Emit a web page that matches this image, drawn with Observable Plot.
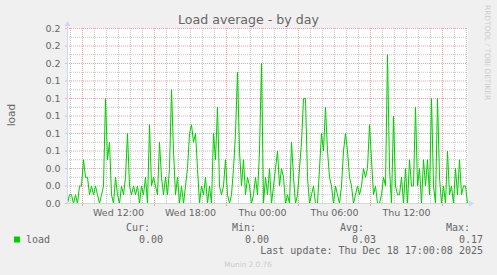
<!DOCTYPE html>
<html>
<head>
<meta charset="utf-8">
<script src="https://cdn.jsdelivr.net/npm/d3@7"></script>
<script src="https://cdn.jsdelivr.net/npm/@observablehq/plot@0.6"></script>
<style>
  html, body { margin: 0; padding: 0; background: #f0f0f0; }
  #chart svg { display: block; }
</style>
</head>
<body>
<div id="chart"></div>
<script>
// ---- data (10-minute samples) ----
const seriesName = "load";
const sampleStart = "2025-12-17T07:45:00Z";
const sampleStepMinutes = 10;
const loadValues = [
  0, 0.01, 0.01, 0, 0.01, 0, 0.02, 0.02, 0.05, 0.03,
  0.03, 0.01, 0.02, 0.01, 0.02, 0.01, 0, 0.01, 0.02, 0.12,
  0.05, 0.07, 0.01, 0, 0.03, 0.01, 0, 0.02, 0.01, 0.03,
  0.08, 0.02, 0.01, 0.02, 0.01, 0.02, 0, 0.02, 0.01, 0.03,
  0, 0.09, 0.02, 0.03, 0.02, 0.01, 0.07, 0.03, 0.01, 0.03,
  0.01, 0.04, 0.13, 0.06, 0.01, 0.03, 0, 0.02, 0, 0.02,
  0.04, 0.08, 0.09, 0.07, 0.08, 0.04, 0, 0.02, 0.01, 0.03,
  0, 0.02, 0, 0.08, 0.05, 0.11, 0.02, 0.01, 0.02, 0.05,
  0.01, 0, 0.01, 0.04, 0.08, 0.15, 0.06, 0.02, 0.05, 0.01,
  0.03, 0.02, 0, 0.01, 0.03, 0.01, 0.06, 0.16, 0, 0.03,
  0.01, 0.04, 0, 0.02, 0.04, 0.06, 0.02, 0.04, 0.03, 0,
  0.01, 0, 0.07, 0.03, 0, 0.01, 0.04, 0.07, 0.12, 0.12,
  0.03, 0, 0.01, 0.02, 0, 0, 0.04, 0.08, 0.06, 0.11,
  0.06, 0.03, 0.02, 0, 0.02, 0.01, 0, 0.02, 0.06, 0.08,
  0.06, 0.03, 0.02, 0, 0.01, 0.02, 0.01, 0.02, 0.04, 0.03,
  0.04, 0.09, 0.05, 0.01, 0.02, 0, 0, 0.01, 0.03, 0.02,
  0.17, 0.04, 0, 0.10, 0.02, 0.01, 0.01, 0.03, 0, 0.04,
  0, 0.05, 0.02, 0.02, 0.11, 0.02, 0.04, 0, 0.05, 0.02,
  0.05, 0.01, 0.12, 0.02, 0, 0.12, 0.03, 0, 0.02, 0,
  0.06, 0.01, 0.02, 0, 0.04, 0.01, 0.05, 0.01, 0.02, 0.02,
  0
];
// axis / grid definitions
const xDomain = ["2025-12-17T07:45:00Z", "2025-12-18T17:05:00Z"];
const xLabelTimes = ["2025-12-17T12:00:00Z", "2025-12-17T18:00:00Z", "2025-12-18T00:00:00Z", "2025-12-18T06:00:00Z", "2025-12-18T12:00:00Z"];
const xMajorTimes = ["2025-12-17T09:00:00Z", "2025-12-17T15:00:00Z", "2025-12-17T21:00:00Z", "2025-12-18T03:00:00Z", "2025-12-18T09:00:00Z", "2025-12-18T15:00:00Z"];
const yDomain = [0, 0.2];
const yMajorTicks = [0, 0.02, 0.04, 0.06, 0.08, 0.10, 0.12, 0.14, 0.16, 0.18, 0.20];
const yMinorTicks = [0.01, 0.03, 0.05, 0.07, 0.09, 0.11, 0.13, 0.15, 0.17, 0.19];
// legend texts
const titleText = "Load average - by day";
const yLabelText = "load";
const statHeaders = ["Cur:", "Min:", "Avg:", "Max:"];
const statValues = ["0.00", "0.00", "0.03", "0.17"];
const lastUpdateText = "Last update: Thu Dec 18 17:00:08 2025";
const muninText = "Munin 2.0.76";
const rrdText = "RRDTOOL / TOBI OETIKER";

// ---- build ----
const t0 = new Date(sampleStart).getTime();
const data = loadValues.map((v, i) => ({ t: new Date(t0 + i * sampleStepMinutes * 60000), v }));
const xDom = xDomain.map(d => new Date(d));
const hourLines = d3.utcHours(xDom[0], xDom[1]);
const majorX = xMajorTimes.map(d => new Date(d));
const labelX = xLabelTimes.map(d => new Date(d));

const GRID = "#c6c6c6";
const MGRID = "#eea4a4";
const AXIS = "#CFD6F8";
const FONT = "#666666";

const chart = Plot.plot({
  width: 497,
  height: 275,
  marginLeft: 67,
  marginRight: 30,
  marginTop: 28,
  marginBottom: 72,
  style: { background: "#f0f0f0", fontFamily: "DejaVu Sans", fontSize: "9.5px", color: FONT },
  x: { type: "utc", domain: xDom },
  y: { domain: yDomain },
  marks: [
    Plot.frame({ fill: "white", stroke: "none" }),
    Plot.ruleY(yMinorTicks, { stroke: GRID, strokeDasharray: "1,1", strokeWidth: 1 }),
    Plot.ruleX(hourLines.filter(h => !majorX.some(m => +m === +h)), { stroke: GRID, strokeDasharray: "1,1", strokeWidth: 1 }),
    Plot.ruleY(yMajorTicks.slice(1), { stroke: MGRID, strokeDasharray: "1,1", strokeWidth: 1 }),
    Plot.ruleX(majorX, { stroke: MGRID, strokeDasharray: "1,1", strokeWidth: 1 }),
    Plot.line(data, { x: "t", y: "v", stroke: "#00cc00", strokeWidth: 1 }),
    Plot.axisY({ ticks: yMajorTicks, tickFormat: d3.format(".1f"), tickSize: 2, tickPadding: 5, stroke: GRID, fill: FONT, label: null }),
    Plot.axisX({ ticks: majorX, tickSize: 3, tickFormat: () => "", stroke: MGRID, label: null }),
    Plot.axisX({ ticks: labelX, tickSize: 0, tickPadding: 6, tickFormat: d3.utcFormat("%a %H:%M"), fill: FONT, label: null }),
    Plot.ruleY([0], { stroke: AXIS, strokeWidth: 1 }),
    Plot.ruleX([xDom[0]], { stroke: AXIS, strokeWidth: 1 })
  ]
});

document.getElementById("chart").appendChild(chart);

const svg = d3.select(chart);
const xs = chart.scale("x"), ys = chart.scale("y");
const x0 = xs.apply(xDom[0]), x1 = xs.apply(xDom[1]);
const yb = ys.apply(0), yt = ys.apply(yDomain[1]);

// axis extensions and arrows
svg.append("line").attr("x1", x1).attr("x2", x1 + 3).attr("y1", yb + 0.5).attr("y2", yb + 0.5).attr("stroke", AXIS);
svg.append("polygon").attr("points", `${x1 + 2},${yb - 2.5} ${x1 + 7},${yb + 0.5} ${x1 + 2},${yb + 3.5}`).attr("fill", AXIS);
svg.append("line").attr("x1", x0 + 0.5).attr("x2", x0 + 0.5).attr("y1", yt).attr("y2", yt - 3).attr("stroke", AXIS);
svg.append("polygon").attr("points", `${x0 - 2.5},${yt - 2} ${x0 + 0.5},${yt - 7} ${x0 + 3.5},${yt - 2}`).attr("fill", AXIS);

function txt(x, y, anchor, family, size, fill, s, transform) {
  const t = svg.append("text").attr("text-anchor", anchor).attr("font-family", family)
    .attr("font-size", size).attr("fill", fill).text(s);
  if (transform) t.attr("transform", transform); else t.attr("x", x).attr("y", y);
  return t;
}

// title
txt(248.5, 24, "middle", "DejaVu Sans", 12.6, FONT, titleText);
// y label
txt(0, 0, "middle", "DejaVu Sans", 10.6, FONT, yLabelText, "translate(15,115) rotate(-90)");
// watermark
txt(0, 0, "start", "DejaVu Sans", 7.4, "#cccccc", rrdText, "translate(485,5) rotate(90)");

// legend
const mono = "DejaVu Sans Mono";
svg.append("rect").attr("x", 14).attr("y", 236.5).attr("width", 6).attr("height", 6).attr("fill", "#00cc00");
txt(26, 243, "start", mono, 10, FONT, seriesName);
const headerRight = [150, 256, 364, 470];
const valueRight = [163, 269, 376, 483];
statHeaders.forEach((h, i) => {
  txt(headerRight[i], 231, "end", mono, 10, FONT, h);
  txt(valueRight[i], 243, "end", mono, 10, FONT, statValues[i]);
});
txt(483, 254, "end", mono, 10, FONT, lastUpdateText);
txt(248, 267, "middle", "DejaVu Sans", 7.3, "#cccccc", muninText);
</script>
</body>
</html>
